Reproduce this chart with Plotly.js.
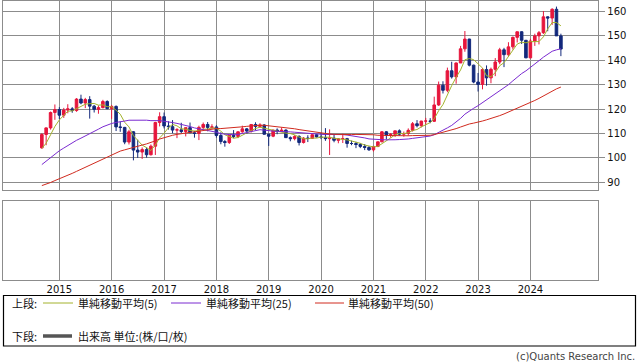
<!DOCTYPE html>
<html>
<head>
<meta charset="utf-8">
<script src="https://cdn.plot.ly/plotly-3.0.1.min.js"></script>
<style>
html,body{margin:0;padding:0;background:#fff;}
#chart{width:638px;height:362px;}
</style>
</head>
<body>
<div id="chart"></div>
<script>
// Monthly candles, Sep 2014 .. Aug 2024
const months = [
 '2014-09-01','2014-10-01','2014-11-01','2014-12-01',
 '2015-01-01','2015-02-01','2015-03-01','2015-04-01','2015-05-01','2015-06-01','2015-07-01','2015-08-01','2015-09-01','2015-10-01','2015-11-01','2015-12-01',
 '2016-01-01','2016-02-01','2016-03-01','2016-04-01','2016-05-01','2016-06-01','2016-07-01','2016-08-01','2016-09-01','2016-10-01','2016-11-01','2016-12-01',
 '2017-01-01','2017-02-01','2017-03-01','2017-04-01','2017-05-01','2017-06-01','2017-07-01','2017-08-01','2017-09-01','2017-10-01','2017-11-01','2017-12-01',
 '2018-01-01','2018-02-01','2018-03-01','2018-04-01','2018-05-01','2018-06-01','2018-07-01','2018-08-01','2018-09-01','2018-10-01','2018-11-01','2018-12-01',
 '2019-01-01','2019-02-01','2019-03-01','2019-04-01','2019-05-01','2019-06-01','2019-07-01','2019-08-01','2019-09-01','2019-10-01','2019-11-01','2019-12-01',
 '2020-01-01','2020-02-01','2020-03-01','2020-04-01','2020-05-01','2020-06-01','2020-07-01','2020-08-01','2020-09-01','2020-10-01','2020-11-01','2020-12-01',
 '2021-01-01','2021-02-01','2021-03-01','2021-04-01','2021-05-01','2021-06-01','2021-07-01','2021-08-01','2021-09-01','2021-10-01','2021-11-01','2021-12-01',
 '2022-01-01','2022-02-01','2022-03-01','2022-04-01','2022-05-01','2022-06-01','2022-07-01','2022-08-01','2022-09-01','2022-10-01','2022-11-01','2022-12-01',
 '2023-01-01','2023-02-01','2023-03-01','2023-04-01','2023-05-01','2023-06-01','2023-07-01','2023-08-01','2023-09-01','2023-10-01','2023-11-01','2023-12-01',
 '2024-01-01','2024-02-01','2024-03-01','2024-04-01','2024-05-01','2024-06-01','2024-07-01','2024-08-01'
];
const openV = [
 104.1,109.6,112.3,118.6,
 119.8,117.5,119.6,120.1,119.4,124.1,122.5,123.9,121.2,119.9,120.6,123.1,
 120.2,121.1,112.7,112.5,106.5,110.7,103.2,102.4,103.4,101.3,104.8,114.5,
 116.9,113.1,112.8,111.4,111.5,110.8,112.4,110.3,110.0,112.5,113.7,112.5,
 112.7,109.2,106.7,106.3,109.3,108.8,110.7,111.9,111.0,113.7,112.9,113.5,
 109.7,108.9,111.4,110.8,111.4,108.3,107.9,108.8,106.3,108.1,108.0,109.5,
 108.6,108.4,107.9,108.1,107.2,107.8,107.9,105.9,105.9,105.5,104.7,104.3,
 103.3,104.7,106.6,110.7,109.3,109.6,111.1,109.7,110.0,111.3,114.0,113.2,
 115.1,115.1,115.0,121.7,129.8,127.7,135.7,133.2,138.9,144.7,148.7,138.0,
 131.1,130.1,136.2,132.8,136.3,139.3,144.3,142.3,145.5,149.4,151.7,148.2,
 141.0,147.9,150.0,151.3,157.8,157.3,160.9,150.0
];
const highV = [
 110.1,112.5,119.0,121.9,
 120.8,120.5,122.0,120.8,124.5,125.9,124.6,125.3,121.7,121.5,123.8,123.6,
 121.7,121.5,114.9,112.7,111.5,111.0,107.5,104.3,104.3,105.5,114.8,118.7,
 118.6,115.0,115.5,112.2,114.4,112.4,114.5,111.1,113.2,114.5,114.7,113.8,
 113.4,110.5,107.3,109.5,111.4,110.9,113.2,112.2,113.7,114.6,114.2,113.8,
 109.9,111.5,112.1,112.4,111.7,108.8,109.3,109.3,108.5,109.3,109.7,109.7,
 110.3,112.2,111.7,109.4,108.1,109.9,108.2,107.1,106.6,106.1,105.7,104.8,
 104.9,106.7,111.0,111.0,110.2,111.1,111.7,110.8,112.1,114.7,115.5,115.2,
 116.4,116.3,125.1,131.3,131.4,137.0,139.4,139.1,145.9,152.0,148.8,138.2,
 134.8,136.9,137.9,137.0,140.9,145.1,145.1,147.4,149.7,151.7,151.9,148.3,
 148.8,150.9,152.0,160.2,158.0,161.3,162.0,150.9
];
const lowV = [
 103.8,105.2,111.6,115.6,
 115.9,116.4,118.3,118.5,118.9,122.0,120.4,116.1,118.6,118.1,120.3,119.9,
 116.0,111.0,110.7,105.6,105.5,99.0,100.0,99.6,100.1,101.0,101.2,112.9,
 112.1,111.6,110.1,108.1,110.2,108.8,110.6,108.3,107.3,111.6,110.9,111.9,
 108.3,105.6,104.6,105.7,108.1,108.1,110.3,109.8,110.4,111.4,112.3,109.6,
 104.9,108.5,109.7,110.8,108.3,106.8,107.2,105.1,105.9,106.5,107.9,108.4,
 107.7,107.0,101.2,106.4,106.0,106.1,104.2,105.2,104.0,104.0,103.2,102.9,
 102.6,104.4,106.4,107.5,108.3,108.6,109.1,108.7,109.1,110.8,112.5,112.5,
 113.5,114.2,114.7,121.3,126.4,126.9,132.5,130.4,138.9,143.5,137.5,130.6,
 127.2,128.1,129.6,130.6,133.5,138.4,137.2,141.5,144.4,147.3,146.7,140.9,
 140.8,145.9,146.5,150.8,151.9,154.5,152.0,141.7
];
const closeV = [
 109.6,112.3,118.6,119.8,
 117.5,119.6,120.1,119.4,124.1,122.5,123.9,121.2,119.9,120.6,123.1,120.2,
 121.1,112.7,112.5,106.5,110.7,103.2,102.4,103.4,101.3,104.8,114.5,116.9,
 113.1,112.8,111.4,111.5,110.8,112.4,110.3,110.0,112.5,113.7,112.5,112.7,
 109.2,106.7,106.3,109.3,108.8,110.7,111.9,111.0,113.7,112.9,113.5,109.7,
 108.9,111.4,110.8,111.4,108.3,107.9,108.8,106.3,108.1,108.0,109.5,108.6,
 108.4,107.9,108.1,107.2,107.8,107.9,105.9,105.9,105.5,104.7,104.3,103.3,
 104.7,106.6,110.7,109.3,109.6,111.1,109.7,110.0,111.3,114.0,113.2,115.1,
 115.1,115.0,121.7,129.8,127.7,135.7,133.2,138.9,144.7,148.7,138.0,131.1,
 130.1,136.2,132.8,136.3,139.3,144.3,142.3,145.5,149.4,151.7,148.2,141.0,
 147.9,150.0,151.3,157.8,157.3,160.9,150.0,144.6
];
// Monthly closes before the visible range (Aug 2010 .. Aug 2014), used only by the moving averages
const priorCloses = [
 84.2,83.5,80.4,83.6,81.1,
 82.0,81.8,83.1,81.2,81.5,80.5,77.0,76.6,77.0,78.2,77.6,76.9,
 76.3,81.2,82.9,80.0,78.3,79.8,78.1,78.4,77.9,79.8,82.5,86.7,
 91.7,92.6,94.2,97.5,100.5,99.1,97.9,98.2,98.3,98.4,102.4,105.3,
 102.0,101.8,103.2,102.2,101.8,101.3,102.8,104.1
];
const yearTickVals = ['2015-01-01','2016-01-01','2017-01-01','2018-01-01','2019-01-01','2020-01-01','2021-01-01','2022-01-01','2023-01-01','2024-01-01'];
const yearTickText = ['2015','2016','2017','2018','2019','2020','2021','2022','2023','2024'];
const priceTicks = [90,100,110,120,130,140,150,160];

const maPeriods = [5,25,50];
const maNames = ['単純移動平均(5)','単純移動平均(25)','単純移動平均(50)'];
const maColors = ['#a3b22c','#7a2ad0','#d02a1e'];

function sma(period){
  const all = priorCloses.concat(closeV);
  const off = priorCloses.length;
  const out = [];
  for(let i=0;i<closeV.length;i++){
    const end = off + i;
    let s = 0;
    for(let k=end-period+1;k<=end;k++) s += all[k];
    out.push(Math.round(s/period*100)/100);
  }
  return out;
}

const W=638, H=362;
const px = v => v/W;
const py = v => 1 - v/H;
const grid = '#8c8c8c';
const red = '#e6163c', navy = '#13297c';

const traces = [{
  type:'candlestick', x:months, open:openV, high:highV, low:lowV, close:closeV,
  xaxis:'x', yaxis:'y',
  increasing:{line:{color:red,width:1}, fillcolor:red},
  decreasing:{line:{color:navy,width:1}, fillcolor:navy},
  whiskerwidth:0, showlegend:false, hoverinfo:'skip'
}];
maPeriods.forEach((p,i)=>{
  traces.push({type:'scatter', mode:'lines', x:months, y:sma(p), xaxis:'x', yaxis:'y',
    line:{color:maColors[i], width:1}, showlegend:false, hoverinfo:'skip'});
});
traces.push({type:'scatter', mode:'lines', x:[], y:[], xaxis:'x2', yaxis:'y2', showlegend:false, hoverinfo:'skip'});

const xr = ['2013-12-06','2025-04-19'];
const xdom = [px(3.3), px(598.3)];
const axFont = {family:'DejaVu Sans', size:10, color:'#111'};

const layout = {
  width:W, height:H, margin:{l:0,r:0,t:0,b:0,pad:0},
  paper_bgcolor:'#fff', plot_bgcolor:'#fff', showlegend:false,
  boxgap:0.2, boxgroupgap:0.2,
  xaxis:{type:'date', domain:xdom, anchor:'y', range:xr, rangeslider:{visible:false},
    tickmode:'array', tickvals:yearTickVals, ticktext:yearTickText, showticklabels:false, ticks:'',
    showgrid:true, gridcolor:grid, gridwidth:1, showline:true, linecolor:grid, linewidth:1, mirror:true, zeroline:false},
  yaxis:{domain:[py(190), py(0.5)], anchor:'x', side:'right', range:[86.85,164.5],
    tickmode:'array', tickvals:priceTicks, ticks:'outside', ticklen:6, tickcolor:grid, tickwidth:1,
    showgrid:true, gridcolor:grid, gridwidth:1, showline:true, linecolor:grid, linewidth:1, mirror:true, zeroline:false,
    tickfont:axFont},
  xaxis2:{type:'date', domain:xdom, anchor:'y2', range:xr,
    tickmode:'array', tickvals:yearTickVals, ticktext:yearTickText, ticks:'', tickfont:axFont,
    showgrid:true, gridcolor:grid, gridwidth:1, showline:true, linecolor:grid, linewidth:1, mirror:true, zeroline:false},
  yaxis2:{domain:[py(280), py(201.3)], anchor:'x2', range:[0,1], showgrid:false, showticklabels:false, ticks:'',
    showline:true, linecolor:grid, linewidth:1, mirror:true, zeroline:false},
  shapes:[
    {type:'rect', xref:'paper', yref:'paper', x0:px(3.5), x1:px(635.5), y0:py(346), y1:py(295.5), line:{color:'#000', width:1.2}},
    {type:'line', xref:'paper', yref:'paper', x0:px(43), x1:px(73), y0:py(303), y1:py(303), line:{color:maColors[0], width:1}},
    {type:'line', xref:'paper', yref:'paper', x0:px(171), x1:px(201), y0:py(303), y1:py(303), line:{color:maColors[1], width:1}},
    {type:'line', xref:'paper', yref:'paper', x0:px(315), x1:px(344), y0:py(303), y1:py(303), line:{color:maColors[2], width:1}},
    {type:'line', xref:'paper', yref:'paper', x0:px(43), x1:px(72), y0:py(336), y1:py(336), line:{color:'#555', width:3.5}}
  ],
  annotations:[]
};
const lf = {family:'Noto Sans CJK JP', size:11, color:'#111'};
function ann(text,x,y,anchor,font){
  layout.annotations.push({text:text, xref:'paper', yref:'paper', x:px(x), y:py(y), xanchor:anchor||'left', yanchor:'middle', showarrow:false, font:font||lf, borderpad:0});
}
ann('上段:', 11, 303);
ann(maNames[0], 77, 303);
ann(maNames[1], 205, 303);
ann(maNames[2], 347, 303);
ann('下段:', 11, 336);
ann('出来高 単位:(株/口/枚)', 77, 336);
ann('(c)Quants Research Inc.', 636, 356, 'right', {family:'DejaVu Sans', size:10, color:'#444'});

Plotly.newPlot('chart', traces, layout, {staticPlot:true, displayModeBar:false});
</script>
</body>
</html>
